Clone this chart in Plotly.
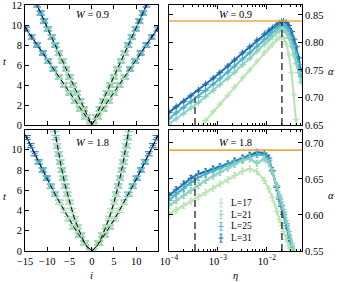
import plotly.graph_objects as go

# ---------------- data ----------------
L_values = [17, 21, 25, 31]
colors = {17: "#b9e3b4", 21: "#8ad2be", 25: "#4cb2c8", 31: "#1f6db1"}

# left panels: light-cone fronts, t grid and right-branch positions i (left branch mirrored)
t_grid = [0, 0.8, 1.6, 2.4, 3.2, 4.0, 4.8, 5.6, 6.4, 7.2, 8.0, 8.8, 9.6, 10.4, 11.2, 12.0]
t_err = 0.2

i_inner_w09 = [0.4, 1.1, 1.8, 2.6, 3.4, 4.2, 5.0, 5.8, 6.6, 7.4, 8.2, 9.0, 9.9, 10.7, 11.5, 12.3]
i_outer_w09 = [0.3, 1.4, 2.6, 3.8, 5.0, 6.2, 7.4, 8.6, 9.8, 11.0, 12.3, 13.5, 14.8]
n_inner_w09 = {17: 10, 21: 13, 25: 15, 31: 16}
n_outer_w09 = {17: 7, 21: 9, 25: 11, 31: 13}

i_inner_w18 = [0.3, 1.5, 2.4, 3.2, 3.9, 4.5, 5.0, 5.5, 5.95, 6.35, 6.75, 7.1, 7.45, 7.8, 8.1, 8.4]
i_outer_w18 = [0.3, 1.65, 2.9, 4.1, 5.2, 6.2, 7.25, 8.25, 9.2, 10.1, 11.05, 11.95, 12.85, 13.75, 14.6]
n_inner_w18 = {17: 14, 21: 16, 25: 16, 31: 16}
n_outer_w18 = {17: 7, 21: 9, 25: 12, 31: 15}

# fitted fronts (dashed)
fit_i_w09 = [-15, 0, 15]
fit_t_inner_w09 = [14.6, 0, 14.6]
fit_t_outer_w09 = [9.8, 0, 9.8]
fit_i_pos_w18 = [0, 1, 2, 3, 4, 5, 6, 7, 8, 9, 10, 11, 12, 13, 14, 15]
fit_t_inner_w18 = [0, 0.34, 1.15, 2.2, 3.35, 4.8, 6.5, 8.6, 10.9, 13.6]
fit_t_outer_w18 = [0, 0.44, 1.01, 1.65, 2.34, 3.06, 3.82, 4.6, 5.4, 6.23, 7.08, 7.94, 8.82, 9.71, 10.6, 11.5]

# right panels: alpha vs eta
eta = [1.0e-4, 1.4e-4, 2.0e-4, 2.8e-4, 4.0e-4, 5.6e-4, 8.0e-4, 1.1e-3, 1.6e-3, 2.2e-3,
       3.2e-3, 4.5e-3, 6.3e-3, 8.9e-3, 1.1e-2, 1.3e-2, 1.6e-2, 1.8e-2, 2.0e-2, 2.2e-2,
       2.5e-2, 2.8e-2, 3.2e-2, 3.6e-2, 4.0e-2, 4.5e-2, 5.0e-2]

alpha_w09 = {
    31: [0.673, 0.683, 0.693, 0.703, 0.713, 0.724, 0.735, 0.745, 0.757, 0.768, 0.781, 0.792, 0.804,
         0.815, 0.821, 0.826, 0.832, 0.835, 0.837, 0.838, 0.836, 0.831, 0.820, 0.806, 0.792, 0.772, 0.748],
    25: [0.662, 0.672, 0.682, 0.692, 0.702, 0.713, 0.724, 0.734, 0.746, 0.757, 0.770, 0.781, 0.793,
         0.805, 0.812, 0.818, 0.825, 0.829, 0.831, 0.831, 0.828, 0.821, 0.808, 0.794, 0.780, 0.760, 0.738],
    21: [0.652, 0.661, 0.671, 0.681, 0.691, 0.702, 0.713, 0.723, 0.735, 0.746, 0.760, 0.771, 0.784,
         0.797, 0.805, 0.811, 0.818, 0.822, 0.824, 0.823, 0.818, 0.809, 0.793, 0.777, 0.762, 0.745, 0.728],
    17: [0.580, 0.596, 0.612, 0.627, 0.643, 0.658, 0.674, 0.688, 0.704, 0.719, 0.736, 0.750, 0.766,
         0.781, 0.790, 0.797, 0.805, 0.809, 0.810, 0.807, 0.797, 0.779, 0.745, 0.705, 0.660, 0.610, 0.560],
}
alpha_w18 = {
    31: [0.627, 0.635, 0.643, 0.651, 0.657, 0.660, 0.664, 0.667, 0.671, 0.675, 0.679, 0.683, 0.687,
         0.686, 0.679, 0.662, 0.638, 0.622, 0.612, 0.601, 0.585, 0.568, 0.553, 0.540, 0.530, 0.520, 0.510],
    25: [0.620, 0.629, 0.637, 0.645, 0.652, 0.657, 0.661, 0.665, 0.669, 0.673, 0.677, 0.681, 0.684,
         0.683, 0.676, 0.661, 0.640, 0.625, 0.614, 0.604, 0.588, 0.572, 0.556, 0.543, 0.532, 0.522, 0.512],
    21: [0.613, 0.620, 0.627, 0.634, 0.641, 0.648, 0.654, 0.659, 0.665, 0.670, 0.676, 0.678, 0.672,
         0.678, 0.672, 0.660, 0.641, 0.628, 0.618, 0.608, 0.592, 0.577, 0.561, 0.548, 0.537, 0.526, 0.515],
    17: [0.601, 0.607, 0.613, 0.619, 0.625, 0.631, 0.637, 0.643, 0.649, 0.655, 0.661, 0.664, 0.660,
         0.648, 0.636, 0.624, 0.605, 0.594, 0.585, 0.577, 0.566, 0.557, 0.549, 0.541, 0.533, 0.525, 0.517],
}
alpha_err_w09 = 0.002
alpha_err_w18 = 0.004

alpha_max = {"w09": 0.839, "w18": 0.690}
dash_eta = [3.4e-4, 2.04e-2]
dash_top_w09 = [0.700, 0.840]
dash_top_w18 = [0.655, 0.610]

# tick definitions
log_major = [1e-4, 1e-3, 1e-2]
log_major_text = ["10<sup>−4</sup>", "10<sup>−3</sup>", "10<sup>−2</sup>"]
log_minor = [2e-4, 3e-4, 4e-4, 5e-4, 6e-4, 7e-4, 8e-4, 9e-4,
             2e-3, 3e-3, 4e-3, 5e-3, 6e-3, 7e-3, 8e-3, 9e-3,
             2e-2, 3e-2, 4e-2, 5e-2]

# ---------------- figure ----------------
fig = go.Figure()
FONT = "Liberation Serif"

W, H = 338, 282
ml, mr, mt, mb = 25, 36, 5, 31
pw, ph = W - ml - mr, H - mt - mb


def px_x(p):
    return (p - ml) / pw


def px_y(p):
    return (H - mb - p) / ph


def v_shape(i_pos, n):
    xs = [-v for v in i_pos[:n]][::-1] + list(i_pos[:n])
    ts = list(t_grid[:n])[::-1] + list(t_grid[:n])
    return xs, ts


def add_left(i_inner, n_inner, i_outer, n_outer, xa, ya):
    for L in [31, 25, 21, 17]:
        c = colors[L]
        for arr, n in ((i_inner, n_inner[L]), (i_outer, n_outer[L])):
            xs, ts = v_shape(arr, n)
            fig.add_trace(go.Scatter(
                x=xs, y=ts, mode="lines+markers", xaxis=xa, yaxis=ya, showlegend=False,
                line=dict(color=c, width=1.3),
                marker=dict(symbol="cross-thin-open", size=4, color=c, line=dict(width=1, color=c)),
                error_y=dict(type="constant", value=t_err, color=c, thickness=1, width=4),
            ))


def add_fit(xs, ts, xa, ya):
    fig.add_trace(go.Scatter(x=xs, y=ts, mode="lines", xaxis=xa, yaxis=ya, showlegend=False,
                             line=dict(color="black", width=1, dash="5px,3px")))


add_left(i_inner_w09, n_inner_w09, i_outer_w09, n_outer_w09, "x", "y")
add_left(i_inner_w18, n_inner_w18, i_outer_w18, n_outer_w18, "x3", "y3")

add_fit(fit_i_w09, fit_t_inner_w09, "x", "y")
add_fit(fit_i_w09, fit_t_outer_w09, "x", "y")
for tt in (fit_t_inner_w18, fit_t_outer_w18):
    ip = fit_i_pos_w18[:len(tt)]
    add_fit([-v for v in ip][::-1] + ip, tt[::-1] + tt, "x3", "y3")


def add_right(alpha, err, xa, ya):
    for L in [31, 25, 21, 17]:
        c = colors[L]
        fig.add_trace(go.Scatter(
            x=eta, y=alpha[L], mode="lines+markers", xaxis=xa, yaxis=ya, showlegend=False,
            line=dict(color=c, width=2),
            marker=dict(symbol="cross-thin-open", size=5, color=c, line=dict(width=1, color=c)),
            error_y=dict(type="constant", value=err, color=c, thickness=1, width=1.5),
        ))


add_right(alpha_w09, alpha_err_w09, "x2", "y2")
add_right(alpha_w18, alpha_err_w18, "x4", "y4")

# dashed vertical markers
for tops, xa, ya, ymin in ((dash_top_w09, "x2", "y2", 0.65), (dash_top_w18, "x4", "y4", 0.55)):
    for e, top in zip(dash_eta, tops):
        fig.add_trace(go.Scatter(x=[e, e], y=[ymin, top], mode="lines", xaxis=xa, yaxis=ya,
                                 showlegend=False, line=dict(color="#222222", width=1.3, dash="7px,4px")))

# orange max lines
for key, yref, xref in (("w09", "y2", "x2 domain"), ("w18", "y4", "x4 domain")):
    fig.add_shape(type="line", xref=xref, yref=yref, x0=0, x1=1,
                  y0=alpha_max[key], y1=alpha_max[key], line=dict(color="#f0aa45", width=1.6))

# hand-made compact legend (glyph: small error bar with cross + label)
leg_x_glyph, leg_x_text, leg_y0, leg_dy = 221, 229, 203, 11.7
for k, L in enumerate(L_values):
    c = colors[L]
    yc = leg_y0 + k * leg_dy
    segs = [((leg_x_glyph, yc - 4), (leg_x_glyph, yc + 4)),
            ((leg_x_glyph - 1.5, yc - 4), (leg_x_glyph + 1.5, yc - 4)),
            ((leg_x_glyph - 1.5, yc + 4), (leg_x_glyph + 1.5, yc + 4)),
            ((leg_x_glyph - 2.5, yc), (leg_x_glyph + 2.5, yc))]
    for (xa0, ya0), (xa1, ya1) in segs:
        fig.add_shape(type="line", xref="paper", yref="paper",
                      x0=px_x(xa0), y0=px_y(ya0), x1=px_x(xa1), y1=px_y(ya1),
                      line=dict(color=c, width=1))
    fig.add_annotation(text=f"L={L}", x=px_x(leg_x_text), y=px_y(yc), xref="paper", yref="paper",
                       showarrow=False, xanchor="left", yanchor="middle",
                       font=dict(family=FONT, size=9.5, color="black"))

# ---------------- axes ----------------
dom_left = [0, px_x(158)]
dom_right = [px_x(169), 1]
dom_top = [px_y(125), 1]
dom_bot = [0, px_y(130)]

axis_common = dict(showline=True, linecolor="black", linewidth=1, mirror="ticks", ticks="inside",
                   ticklen=4, tickcolor="black", showgrid=False, zeroline=False, automargin=False,
                   ticklabeloverflow="allow",
                   tickfont=dict(family=FONT, size=10.5, color="black"))

lin_x = dict(axis_common, range=[-15.02, 14.9], tickvals=[-15, -10, -5, 0, 5, 10],
             ticktext=["−15", "−10", "−5", "0", "5", "10"])
log_x = dict(axis_common, type="log", range=[-4, -1.28], tickvals=log_major, ticktext=log_major_text,
             minor=dict(tickmode="array", tickvals=log_minor, ticks="inside", ticklen=2,
                        tickcolor="black", showgrid=False))

fig.update_layout(
    template=None,
    width=W, height=H, margin=dict(l=ml, r=mr, t=mt, b=mb, autoexpand=False),
    paper_bgcolor="white", plot_bgcolor="white",
    font=dict(family=FONT, size=10.5, color="black"),
    showlegend=False,
    hovermode=False,
    xaxis=dict(lin_x, domain=dom_left, anchor="y", showticklabels=False),
    yaxis=dict(axis_common, domain=dom_top, anchor="x", range=[0, 12], tickvals=[0, 2, 4, 6, 8, 10, 12]),
    xaxis2=dict(log_x, domain=dom_right, anchor="y2", showticklabels=False),
    yaxis2=dict(axis_common, domain=dom_top, anchor="x2", side="right", range=[0.65, 0.868],
                tickvals=[0.65, 0.70, 0.75, 0.80, 0.85], tickformat=".2f"),
    xaxis3=dict(lin_x, domain=dom_left, anchor="y3"),
    yaxis3=dict(axis_common, domain=dom_bot, anchor="x3", range=[0, 11.95], tickvals=[0, 2, 4, 6, 8, 10]),
    xaxis4=dict(log_x, domain=dom_right, anchor="y4"),
    yaxis4=dict(axis_common, domain=dom_bot, anchor="x4", side="right", range=[0.55, 0.718],
                tickvals=[0.55, 0.60, 0.65, 0.70], tickformat=".2f"),
)

ann = [
    ("<i>t</i>", 5, 61), ("<i>t</i>", 5, 196), ("<i>i</i>", 91, 275), ("<i>η</i>", 236, 275),
    ("<i>α</i>", 331, 71), ("<i>α</i>", 331, 195),
    ("<i>W</i> = 0.9", 92, 14), ("<i>W</i> = 0.9", 236, 14),
    ("<i>W</i> = 1.8", 92, 142), ("<i>W</i> = 1.8", 236, 142),
]
for text, x, y in ann:
    fig.add_annotation(text=text, x=px_x(x), y=px_y(y), xref="paper", yref="paper",
                       showarrow=False, xanchor="center", yanchor="middle",
                       font=dict(family=FONT, size=10.5, color="black"))

fig.write_html(
    "out.html",
    config={"displayModeBar": False, "staticPlot": True},
    post_script="document.body.style.margin='0';document.body.style.overflow='hidden';",
)
